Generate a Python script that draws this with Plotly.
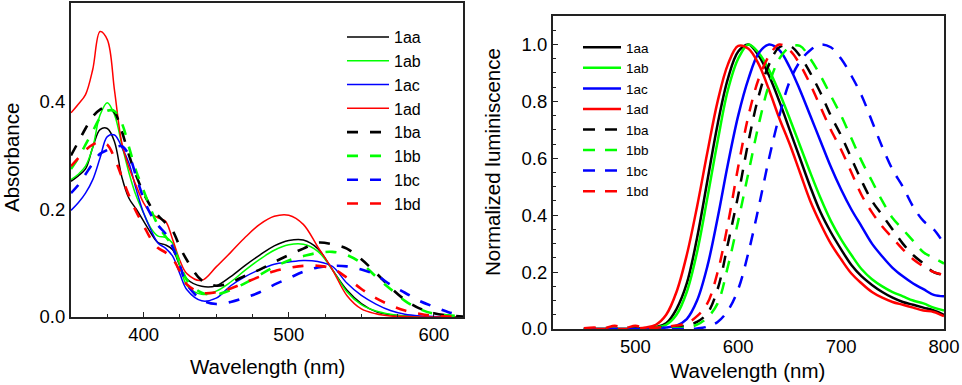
import plotly.graph_objects as go

# absorption spectra (left panel)
ab_wl = [350, 355, 360, 365, 370, 375, 380, 385, 390, 395, 400, 405, 410, 415, 420, 425, 430,
         440, 450, 460, 470, 480, 490, 500, 510, 520, 530, 540, 550, 560, 570, 580, 590, 600, 610, 620]
ab_1aa = [0.252, 0.262, 0.275, 0.315, 0.348, 0.350, 0.325, 0.260, 0.220, 0.200, 0.178, 0.156, 0.138, 0.134, 0.125, 0.095, 0.070,
          0.057, 0.058, 0.075, 0.096, 0.115, 0.132, 0.142, 0.143, 0.127, 0.088, 0.050, 0.025, 0.010, 0.004, 0.002, 0.001, 0.0, 0.0, 0.0]
ab_1ab = [0.255, 0.265, 0.280, 0.315, 0.375, 0.398, 0.375, 0.320, 0.267, 0.224, 0.193, 0.165, 0.150, 0.148, 0.137, 0.095, 0.058,
          0.042, 0.048, 0.065, 0.087, 0.107, 0.124, 0.134, 0.135, 0.122, 0.088, 0.047, 0.023, 0.011, 0.005, 0.002, 0.001, 0.0, 0.0, 0.0]
ab_1ac = [0.198, 0.212, 0.230, 0.255, 0.295, 0.335, 0.338, 0.315, 0.285, 0.236, 0.193, 0.162, 0.137, 0.128, 0.113, 0.080, 0.050,
          0.030, 0.035, 0.058, 0.075, 0.088, 0.098, 0.102, 0.105, 0.103, 0.094, 0.063, 0.040, 0.024, 0.012, 0.005, 0.002, 0.001, 0.0, 0.0]
ab_1ad = [0.379, 0.395, 0.413, 0.460, 0.530, 0.515, 0.420, 0.323, 0.277, 0.243, 0.212, 0.193, 0.184, 0.178, 0.144, 0.105, 0.080,
          0.068, 0.093, 0.120, 0.148, 0.172, 0.187, 0.189, 0.172, 0.130, 0.088, 0.040, 0.015, 0.006, 0.002, 0.001, 0.0, 0.0, 0.0, 0.0]
ab_1ba = [0.300, 0.325, 0.350, 0.372, 0.385, 0.390, 0.380, 0.345, 0.300, 0.262, 0.230, 0.205, 0.188, 0.175, 0.160, 0.130, 0.105,
          0.068, 0.058, 0.064, 0.077, 0.088, 0.102, 0.115, 0.127, 0.138, 0.135, 0.127, 0.107, 0.082, 0.055, 0.032, 0.016, 0.007, 0.003, 0.001]
ab_1bb = [0.275, 0.295, 0.320, 0.345, 0.370, 0.383, 0.382, 0.360, 0.315, 0.270, 0.235, 0.200, 0.170, 0.150, 0.132, 0.100, 0.068,
          0.045, 0.042, 0.050, 0.063, 0.078, 0.093, 0.105, 0.113, 0.119, 0.121, 0.115, 0.100, 0.075, 0.052, 0.030, 0.015, 0.006, 0.003, 0.001]
ab_1bc = [0.230, 0.245, 0.265, 0.285, 0.303, 0.310, 0.315, 0.317, 0.300, 0.260, 0.220, 0.190, 0.170, 0.155, 0.130, 0.095, 0.060,
          0.032, 0.024, 0.028, 0.036, 0.046, 0.060, 0.072, 0.084, 0.092, 0.095, 0.094, 0.088, 0.078, 0.060, 0.045, 0.030, 0.019, 0.009, 0.003]
ab_1bd = [0.280, 0.295, 0.310, 0.320, 0.325, 0.320, 0.295, 0.260, 0.225, 0.195, 0.170, 0.145, 0.128, 0.120, 0.108, 0.085, 0.060,
          0.045, 0.046, 0.053, 0.064, 0.075, 0.085, 0.091, 0.095, 0.095, 0.090, 0.073, 0.052, 0.035, 0.022, 0.012, 0.006, 0.002, 0.001, 0.0]

# normalized emission spectra (right panel)
em_wl = [450, 460, 470, 480, 490, 500, 510, 520, 530, 540, 550, 560, 570, 580, 590, 600, 610, 620,
         630, 640, 650, 660, 670, 680, 690, 700, 710, 720, 730, 740, 750, 760, 770, 780, 790, 800]
em_1aa = [0, 0, 0, 0, 0, 0.001, 0.003, 0.007, 0.02, 0.07, 0.16, 0.32, 0.52, 0.72, 0.88, 0.975, 1.0, 0.96,
          0.89, 0.80, 0.70, 0.60, 0.50, 0.41, 0.34, 0.28, 0.225, 0.185, 0.155, 0.13, 0.11, 0.095, 0.085, 0.075, 0.065, 0.05]
em_1ab = [0, 0, 0, 0, 0, 0, 0.002, 0.005, 0.015, 0.05, 0.13, 0.27, 0.46, 0.66, 0.84, 0.95, 1.0, 0.97,
          0.91, 0.83, 0.74, 0.645, 0.55, 0.46, 0.38, 0.315, 0.26, 0.21, 0.175, 0.15, 0.13, 0.115, 0.10, 0.09, 0.075, 0.065]
em_1ac = [0, 0, 0, 0, 0, 0, 0, 0.002, 0.005, 0.012, 0.035, 0.10, 0.22, 0.39, 0.58, 0.75, 0.88, 0.97,
          1.0, 0.98, 0.92, 0.84, 0.75, 0.66, 0.57, 0.49, 0.42, 0.36, 0.30, 0.255, 0.215, 0.185, 0.16, 0.14, 0.12, 0.115]
em_1ad = [0, 0, 0, 0, 0, 0.002, 0.005, 0.015, 0.05, 0.13, 0.26, 0.43, 0.62, 0.80, 0.93, 0.995, 0.985, 0.93,
          0.84, 0.74, 0.65, 0.55, 0.45, 0.37, 0.30, 0.245, 0.195, 0.16, 0.13, 0.11, 0.095, 0.085, 0.075, 0.065, 0.06, 0.045]
em_1ba = [0, 0, 0, 0, 0, 0.002, 0.002, 0.003, 0.005, 0.008, 0.012, 0.025, 0.055, 0.14, 0.30, 0.47, 0.66, 0.82,
          0.93, 0.99, 0.995, 0.96, 0.90, 0.83, 0.75, 0.68, 0.60, 0.52, 0.45, 0.40, 0.35, 0.30, 0.26, 0.23, 0.20, 0.19]
em_1bb = [0, 0, 0, 0, 0, 0, 0, 0.001, 0.002, 0.003, 0.006, 0.015, 0.04, 0.09, 0.22, 0.38, 0.55, 0.72,
          0.86, 0.95, 0.99, 0.995, 0.95, 0.89, 0.82, 0.75, 0.67, 0.59, 0.52, 0.45, 0.39, 0.35, 0.31, 0.27, 0.25, 0.23]
em_1bc = [0, 0, 0, 0, 0, 0, 0, 0, 0, 0, 0, 0.002, 0.008, 0.025, 0.065, 0.14, 0.27, 0.43,
          0.60, 0.75, 0.87, 0.94, 0.98, 1.0, 0.99, 0.95, 0.89, 0.82, 0.73, 0.64, 0.56, 0.50, 0.43, 0.38, 0.35, 0.30]
em_1bd = [0.003, 0.005, 0.003, 0.011, 0.004, 0.011, 0.003, 0.004, 0.008, 0.012, 0.02, 0.045, 0.09, 0.20, 0.37, 0.57, 0.75, 0.88,
          0.96, 1.0, 0.98, 0.93, 0.86, 0.78, 0.70, 0.63, 0.55, 0.47, 0.41, 0.36, 0.32, 0.28, 0.245, 0.22, 0.20, 0.19]

names = ["1aa", "1ab", "1ac", "1ad", "1ba", "1bb", "1bc", "1bd"]
colors = ["#000000", "#00ff00", "#0000ff", "#ff0000"] * 2
ab_series = [ab_1aa, ab_1ab, ab_1ac, ab_1ad, ab_1ba, ab_1bb, ab_1bc, ab_1bd]
em_series = [em_1aa, em_1ab, em_1ac, em_1ad, em_1ba, em_1bb, em_1bc, em_1bd]

FONT = "Liberation Sans, Arial, sans-serif"
W, H = 962, 385

fig = go.Figure()

for i, (nm, ys) in enumerate(zip(names, ab_series)):
    dashed = i >= 4
    fig.add_trace(go.Scatter(
        x=ab_wl, y=ys, mode="lines", name=nm, legend="legend",
        line=dict(color=colors[i], width=2.6 if dashed else 1.5,
                  dash="11px,12px" if dashed else "solid", shape="spline"),
        xaxis="x", yaxis="y"
    ))

for i, (nm, ys) in enumerate(zip(names, em_series)):
    dashed = i >= 4
    fig.add_trace(go.Scatter(
        x=em_wl, y=ys, mode="lines", name=nm, legend="legend2",
        line=dict(color=colors[i], width=2.5,
                  dash="12px,10px" if dashed else "solid", shape="spline"),
        xaxis="x2", yaxis="y2"
    ))

axis_common = dict(showline=True, mirror=True, linecolor="#222", linewidth=2,
                   showgrid=False, zeroline=False, automargin=False,
                   tickfont=dict(family=FONT, size=18.5, color="#000"))

# plot areas in pixels: left 71-463 x 3-317, right 553-944 x 16-329
fig.update_layout(
    width=W, height=H,
    margin=dict(l=0, r=0, t=0, b=0),
    paper_bgcolor="white", plot_bgcolor="white",
    font=dict(family=FONT, color="#000"),
    xaxis=dict(domain=[71 / W, 463 / W], range=[350, 620], anchor="y",
               tickvals=[400, 500, 600], ticks="inside", ticklen=5, tickcolor="#222",
               minor=dict(dtick=25, tick0=350, ticks="inside", ticklen=3, tickcolor="#222"),
               **axis_common),
    yaxis=dict(domain=[1 - 317 / H, 1 - 3 / H], range=[0, 0.583], anchor="x",
               tickvals=[0, 0.2, 0.4], ticktext=["0.0", "0.2", "0.4"], ticks="",
               **axis_common),
    xaxis2=dict(domain=[553 / W, 944 / W], range=[420, 800], anchor="y2",
                tickvals=[500, 600, 700, 800], ticks="",
                **axis_common),
    yaxis2=dict(domain=[1 - 329 / H, 1 - 16 / H], range=[0, 1.1], anchor="x2",
                tickvals=[0, 0.2, 0.4, 0.6, 0.8, 1.0],
                ticktext=["0.0", "0.2", "0.4", "0.6", "0.8", "1.0"],
                ticks="inside", ticklen=5, tickcolor="#222",
                minor=dict(dtick=0.05, ticks="inside", ticklen=3, tickcolor="#222"),
                **axis_common),
    legend=dict(x=342 / W, y=1 - 20 / H, xanchor="left", yanchor="top",
                bgcolor="rgba(0,0,0,0)", borderwidth=0, itemwidth=42,
                font=dict(family=FONT, size=16, color="#000"), tracegroupgap=0),
    legend2=dict(x=578 / W, y=1 - 32 / H, xanchor="left", yanchor="top",
                 bgcolor="rgba(0,0,0,0)", borderwidth=0, itemwidth=38,
                 font=dict(family=FONT, size=13.5, color="#000"), tracegroupgap=0),
    showlegend=True,
    annotations=[
        dict(text="Absorbance", x=11 / W, y=1 - 158 / H, xref="paper", yref="paper",
             textangle=-90, showarrow=False, font=dict(family=FONT, size=20.5),
             xanchor="center", yanchor="middle"),
        dict(text="Wavelength (nm)", x=267 / W, y=1 - 366 / H, xref="paper", yref="paper",
             showarrow=False, font=dict(family=FONT, size=20.5),
             xanchor="center", yanchor="middle"),
        dict(text="Normalized luminiscence", x=493 / W, y=1 - 162 / H, xref="paper", yref="paper",
             textangle=-90, showarrow=False, font=dict(family=FONT, size=20.5),
             xanchor="center", yanchor="middle"),
        dict(text="Wavelength (nm)", x=747 / W, y=1 - 370 / H, xref="paper", yref="paper",
             showarrow=False, font=dict(family=FONT, size=20.5),
             xanchor="center", yanchor="middle"),
    ],
)

fig.write_html("out.html", config={"displayModeBar": False},
               post_script="document.body.style.margin='0';")
